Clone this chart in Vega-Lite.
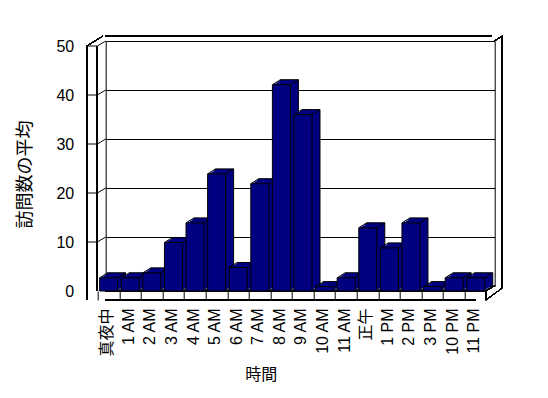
{
  "$schema": "https://vega.github.io/schema/vega-lite/v6.json",
  "width": 389,
  "height": 245,
  "autosize": "none",
  "padding": {"left": 105.7, "top": 41, "right": 53.3, "bottom": 112},
  "background": "white",
  "config": {"view": {"stroke": "black", "strokeWidth": 1}, "font": "Liberation Sans"},
  "datasets": {
    "bars": [
      {"hour": "真夜中", "v": 2.7}, {"hour": "1 AM", "v": 2.7}, {"hour": "2 AM", "v": 3.7},
      {"hour": "3 AM", "v": 9.9}, {"hour": "4 AM", "v": 13.9}, {"hour": "5 AM", "v": 23.9},
      {"hour": "6 AM", "v": 4.8}, {"hour": "7 AM", "v": 21.9}, {"hour": "8 AM", "v": 42.1},
      {"hour": "9 AM", "v": 36.0}, {"hour": "10 AM", "v": 0.9}, {"hour": "11 AM", "v": 2.7},
      {"hour": "正午", "v": 12.9}, {"hour": "1 PM", "v": 8.8}, {"hour": "2 PM", "v": 13.9},
      {"hour": "3 PM", "v": 0.9}, {"hour": "10 PM", "v": 2.7}, {"hour": "11 PM", "v": 2.7}
    ],
    "grid": [{"g": 10}, {"g": 20}, {"g": 30}, {"g": 40}, {"g": 50}]
  },
  "layer": [
    {
      "data": {"name": "bars"},
      "mark": {"type": "bar", "fill": "#000080", "stroke": "black", "strokeWidth": 1},
      "encoding": {
        "x": {
          "field": "hour", "type": "nominal", "title": "時間",
          "scale": {"domain": ["真夜中","1 AM","2 AM","3 AM","4 AM","5 AM","6 AM","7 AM","8 AM","9 AM","10 AM","11 AM","正午","1 PM","2 PM","3 PM","10 PM","11 PM"], "paddingInner": 0.166, "paddingOuter": 0.09},
          "axis": {
            "orient": "bottom", "offset": 5, "domain": false, "grid": false,
            "ticks": true, "tickColor": "black", "tickSize": 9, "bandPosition": 0, "tickOffset": -10,
            "labelAngle": -90, "labelFont": "Liberation Sans, Noto Sans CJK JP", "labelFontSize": 16,
            "labelColor": "black", "labelPadding": 8, "labelOverlap": false,
            "titleFont": "Noto Sans CJK JP", "titleFontSize": 16, "titleFontWeight": "normal", "titleColor": "black",
            "titleX": 155, "titleY": 75, "titleBaseline": "top", "titleAlign": "center"
          }
        },
        "y": {
          "field": "v", "type": "quantitative", "title": "訪問数の平均",
          "scale": {"domain": [0, 50], "nice": false},
          "axis": {
            "orient": "left", "offset": 19, "domain": false, "ticks": false, "tickSize": 0,
            "values": [0, 10, 20, 30, 40, 50],
            "labelPadding": 13, "labelOffset": 5, "labelFont": "Liberation Sans", "labelFontSize": 16, "labelColor": "black",
            "grid": true, "gridColor": "black", "gridOpacity": 1, "gridWidth": 1,
            "titleFont": "Noto Sans CJK JP", "titleFontSize": 18, "titleFontWeight": "normal", "titleColor": "black",
            "titleX": -61, "titleY": 133, "titleAlign": "center", "titleBaseline": "middle", "titleAngle": -90
          }
        }
      }
    },
    {"data": {"name": "bars"}, "mark": {"type": "rule", "stroke": "black", "yOffset": 5, "y2Offset": 5, "xOffset": -9, "x2Offset": -8.3},
     "encoding": {"y": {"datum": 0}}},
    {"data": {"name": "bars"}, "mark": {"type": "rule", "stroke": "black", "yOffset": 14, "y2Offset": 14, "xOffset": -19, "x2Offset": -8.3},
     "encoding": {"y": {"datum": 0}}},
    {"data": {"name": "bars"}, "mark": {"type": "rule", "stroke": "black", "xOffset": 2.2, "yOffset": 5, "y2Offset": 14},
     "encoding": {"x": {"datum": "11 PM", "type": "nominal"}, "y": {"datum": 0}, "y2": {"datum": 0}}},
    {"data": {"name": "bars"}, "mark": {"type": "rule", "stroke": "black", "xOffset": -29.95, "yOffset": 5, "y2Offset": 14},
     "encoding": {"x": {"datum": "真夜中", "type": "nominal"}, "y": {"datum": 50}, "y2": {"datum": 0}}},
    {"data": {"name": "bars"}, "mark": {"type": "rule", "stroke": "black", "xOffset": -19.35, "yOffset": 5, "y2Offset": 5},
     "encoding": {"x": {"datum": "真夜中", "type": "nominal"}, "y": {"datum": 50}, "y2": {"datum": 0}}},
    {"data": {"name": "grid"}, "mark": {"type": "rule", "stroke": "black", "xOffset": -29.95, "x2Offset": -19.35, "yOffset": 5, "y2Offset": 5},
     "encoding": {"x": {"datum": "真夜中", "type": "nominal"}, "x2": {"datum": "真夜中"}, "y": {"field": "g", "type": "quantitative"}, "y2": {"field": "g"}}},
    {"data": {"name": "grid"}, "mark": {"type": "rule", "stroke": "black", "xOffset": -19.35, "x2Offset": -10.95, "yOffset": 5, "y2Offset": 0},
     "encoding": {"x": {"datum": "真夜中", "type": "nominal"}, "x2": {"datum": "真夜中"}, "y": {"field": "g", "type": "quantitative"}, "y2": {"field": "g"}}},
    {"data": {"name": "bars"}, "mark": {"type": "rule", "stroke": "black", "yOffset": -5, "y2Offset": -5, "xOffset": -2.7, "x2Offset": 8},
     "encoding": {"y": {"datum": 50}}},
    {"data": {"name": "bars"}, "mark": {"type": "rule", "stroke": "black", "xOffset": 18.5, "yOffset": -5, "y2Offset": 2},
     "encoding": {"x": {"datum": "11 PM", "type": "nominal"}, "y": {"datum": 50}, "y2": {"datum": 0}}},
    {"data": {"name": "bars"}, "mark": {"type": "rule", "stroke": "black", "xOffset": -29.95, "x2Offset": -13.65, "yOffset": 5, "y2Offset": -5},
     "encoding": {"x": {"datum": "真夜中", "type": "nominal"}, "x2": {"datum": "真夜中"}, "y": {"datum": 50}, "y2": {"datum": 50}}},
    {"data": {"name": "bars"}, "mark": {"type": "rule", "stroke": "black", "xOffset": 10.5, "x2Offset": 18.5, "yOffset": 0, "y2Offset": -5},
     "encoding": {"x": {"datum": "11 PM", "type": "nominal"}, "x2": {"datum": "11 PM"}, "y": {"datum": 50}, "y2": {"datum": 50}}},
    {"data": {"name": "bars"}, "mark": {"type": "rule", "stroke": "black", "xOffset": 2.2, "x2Offset": 18.5, "yOffset": 14, "y2Offset": 2},
     "encoding": {"x": {"datum": "11 PM", "type": "nominal"}, "x2": {"datum": "11 PM"}, "y": {"datum": 0}, "y2": {"datum": 0}}},
    {"data": {"name": "bars"}, "mark": {"type": "rule", "stroke": "black", "xOffset": 2.2, "x2Offset": 10.5, "yOffset": 5, "y2Offset": 0},
     "encoding": {"x": {"datum": "11 PM", "type": "nominal"}, "x2": {"datum": "11 PM"}, "y": {"datum": 0}, "y2": {"datum": 0}}},
    {"data": {"name": "bars"}, "mark": {"type": "bar", "fill": "#000080", "strokeWidth": 0, "xOffset": -2, "x2Offset": -2, "yOffset": 1.25, "y2Offset": 1.25},
     "encoding": {"x": {"field": "hour", "type": "nominal"}, "y": {"field": "v", "type": "quantitative"}}},
    {"data": {"name": "bars"}, "mark": {"type": "bar", "fill": "#000080", "strokeWidth": 0, "xOffset": -4, "x2Offset": -4, "yOffset": 2.5, "y2Offset": 2.5},
     "encoding": {"x": {"field": "hour", "type": "nominal"}, "y": {"field": "v", "type": "quantitative"}}},
    {"data": {"name": "bars"}, "mark": {"type": "bar", "fill": "#000080", "strokeWidth": 0, "xOffset": -6, "x2Offset": -6, "yOffset": 3.75, "y2Offset": 3.75},
     "encoding": {"x": {"field": "hour", "type": "nominal"}, "y": {"field": "v", "type": "quantitative"}}},
    {"data": {"name": "bars"}, "mark": {"type": "rule", "stroke": "black", "xOffset": -17, "x2Offset": -9, "yOffset": 5, "y2Offset": 0},
     "encoding": {"x": {"field": "hour", "type": "nominal"}, "x2": {"field": "hour"}, "y": {"field": "v", "type": "quantitative"}, "y2": {"field": "v"}}},
    {"data": {"name": "bars"}, "mark": {"type": "rule", "stroke": "black", "xOffset": 1, "x2Offset": 9, "yOffset": 5, "y2Offset": 0},
     "encoding": {"x": {"field": "hour", "type": "nominal"}, "x2": {"field": "hour"}, "y": {"field": "v", "type": "quantitative"}, "y2": {"field": "v"}}},
    {"data": {"name": "bars"}, "mark": {"type": "rule", "stroke": "black", "xOffset": 1, "x2Offset": 9, "yOffset": 5, "y2Offset": 0},
     "encoding": {"x": {"field": "hour", "type": "nominal"}, "x2": {"field": "hour"}, "y": {"datum": 0}, "y2": {"datum": 0}}},
    {"data": {"name": "bars"}, "mark": {"type": "bar", "fill": "#000080", "stroke": "black", "strokeWidth": 1, "xOffset": -8, "x2Offset": -8, "yOffset": 5, "y2Offset": 5},
     "encoding": {"x": {"field": "hour", "type": "nominal"}, "y": {"field": "v", "type": "quantitative"}}}
  ]
}
